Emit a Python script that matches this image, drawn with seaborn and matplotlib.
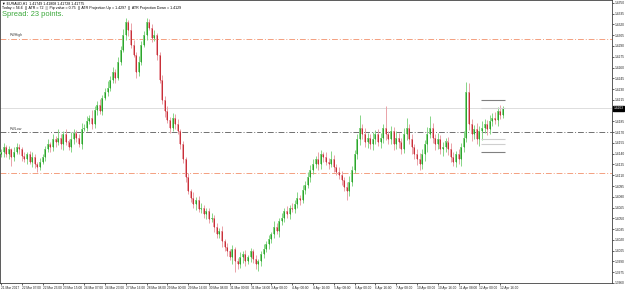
import matplotlib
matplotlib.use("Agg")
import matplotlib.pyplot as plt
import seaborn as sns
import pandas as pd

# ---------------- data ----------------
first_open = 1.4140
closes = [
    1.4143, 1.4149, 1.4139, 1.4146, 1.4135, 1.4142, 1.4150, 1.4146, 1.4137, 1.4132,
    1.4139, 1.4129, 1.4135, 1.4125, 1.4121, 1.4128, 1.4135, 1.4146, 1.4153, 1.4149,
    1.4160, 1.4156, 1.4162, 1.4153, 1.4167, 1.4157, 1.4149, 1.4160, 1.4169, 1.4162,
    1.4153, 1.4174, 1.4176, 1.4185, 1.4190, 1.4181, 1.4201, 1.4208, 1.4199, 1.4218,
    1.4226, 1.4232, 1.4243, 1.4254, 1.4246, 1.4268, 1.4285, 1.4305, 1.4323, 1.4312,
    1.4292, 1.4278, 1.4254, 1.4268, 1.4292, 1.4305, 1.4323, 1.4315, 1.4301, 1.4305,
    1.4278, 1.4243, 1.4215, 1.4199, 1.4187, 1.4176, 1.4190, 1.4181, 1.4171, 1.4153,
    1.4132, 1.4107, 1.4088, 1.4079, 1.4070, 1.4076, 1.4063, 1.4065, 1.4056, 1.4060,
    1.4049, 1.4051, 1.4038, 1.4028, 1.4032, 1.4018, 1.4010, 1.4004, 1.3996, 1.4007,
    1.3990, 1.3986, 1.3996, 1.4000, 1.3990, 1.3996, 1.4004, 1.3993, 1.3986, 1.3990,
    1.4000, 1.4007, 1.4014, 1.4021, 1.4028, 1.4038, 1.4032, 1.4046, 1.4051, 1.4060,
    1.4056, 1.4065, 1.4063, 1.4070, 1.4079, 1.4076, 1.4090, 1.4097, 1.4107, 1.4118,
    1.4125, 1.4132, 1.4125, 1.4139, 1.4135, 1.4129, 1.4125, 1.4132, 1.4121, 1.4115,
    1.4111, 1.4104, 1.4093, 1.4088, 1.4101, 1.4118, 1.4139, 1.4160, 1.4176, 1.4167,
    1.4157, 1.4162, 1.4153, 1.4160, 1.4167, 1.4157, 1.4162, 1.4176, 1.4167, 1.4160,
    1.4171, 1.4153, 1.4162, 1.4157, 1.4146, 1.4167, 1.4176, 1.4160, 1.4149, 1.4139,
    1.4132, 1.4125, 1.4139, 1.4153, 1.4167, 1.4176, 1.4162, 1.4153, 1.4160, 1.4146,
    1.4149, 1.4157, 1.4146, 1.4135, 1.4129, 1.4139, 1.4132, 1.4149, 1.4162, 1.4226,
    1.4181, 1.4167, 1.4174, 1.4160, 1.4171, 1.4176, 1.4181, 1.4174, 1.4185, 1.4190,
    1.4187, 1.4199, 1.4194, 1.4203,
]
upper_wick_pips = [
    4, 6, 3, 5, 2, 7, 5, 3, 4, 6,
    3, 5, 8, 4, 3, 6, 4, 5, 7, 3,
    8, 4, 12, 5, 4, 7, 3, 10, 5, 4,
    6, 9, 5, 7, 4, 11, 6, 5, 8, 4,
    6, 9, 5, 7, 4, 6, 5, 8, 6, 3,
    10, 6, 4, 8, 5, 6, 6, 4, 5, 7,
    3, 4, 6, 5, 8, 4, 6, 5, 7, 3,
    5, 4, 6, 3, 7, 4, 5, 6, 3, 5,
    4, 6, 3, 5, 4, 7, 3, 5, 4, 6,
    3, 5, 7, 4, 6, 3, 5, 4, 6, 3,
    5, 7, 4, 6, 3, 8, 5, 4, 6, 5,
    7, 4, 6, 5, 8, 4, 6, 5, 7, 6,
    8, 5, 10, 6, 4, 7, 5, 12, 6, 4,
    6, 5, 4, 7, 8, 5, 6, 8, 18, 6,
    9, 7, 5, 10, 6, 8, 7, 6, 30, 5,
    8, 6, 10, 7, 5, 9, 14, 6, 8, 5,
    7, 9, 8, 6, 10, 16, 7, 5, 9, 6,
    8, 5, 6, 9, 7, 5, 8, 6, 10, 14,
    12, 8, 6, 9, 7, 10, 8, 6, 9, 7,
    8, 6, 9, 4,
]
lower_wick_pips = [
    5, 8, 4, 6, 12, 5, 3, 6, 7, 4,
    6, 4, 7, 5, 6, 4, 3, 5, 4, 6,
    5, 7, 4, 6, 8, 5, 4, 7, 6, 5,
    4, 6, 3, 5, 4, 6, 5, 7, 4, 5,
    3, 6, 4, 5, 7, 4, 5, 3, 6, 8,
    5, 4, 9, 6, 5, 4, 6, 3, 5, 4,
    7, 5, 6, 8, 4, 7, 5, 6, 4, 6,
    5, 7, 4, 6, 5, 8, 4, 6, 5, 7,
    6, 4, 7, 5, 6, 8, 5, 7, 4, 9,
    14, 6, 5, 8, 6, 4, 7, 5, 6, 9,
    6, 5, 4, 7, 5, 6, 4, 8, 5, 6,
    5, 7, 4, 6, 5, 8, 4, 6, 5, 7,
    6, 5, 8, 6, 7, 5, 6, 4, 7, 5,
    6, 8, 5, 12, 7, 6, 5, 6, 8, 6,
    7, 9, 6, 8, 7, 6, 9, 7, 8, 6,
    7, 8, 6, 9, 7, 5, 8, 7, 9, 6,
    8, 7, 6, 9, 10, 5, 7, 8, 6, 7,
    9, 6, 8, 7, 6, 8, 7, 9, 6, 5,
    8, 10, 7, 6, 9, 12, 7, 8, 6, 7,
    6, 8, 5, 4,
]

x_tick_labels = [
    "21 Mar 2017", "22 Mar 07:00", "22 Mar 23:00", "23 Mar 15:00", "24 Mar 07:00",
    "24 Mar 23:00", "27 Mar 16:00", "28 Mar 08:00", "29 Mar 00:00", "29 Mar 16:00",
    "30 Mar 08:00", "31 Mar 00:00", "31 Mar 16:00", "3 Apr 08:00", "4 Apr 00:00",
    "4 Apr 16:00", "5 Apr 08:00", "6 Apr 00:00", "6 Apr 16:00", "7 Apr 08:00",
    "10 Apr 00:00", "10 Apr 16:00", "11 Apr 08:00", "12 Apr 00:00", "12 Apr 16:00",
]
y_ticks = [
    1.3960, 1.3975, 1.3990, 1.4005, 1.4020, 1.4035, 1.4050, 1.4065, 1.4080,
    1.4095, 1.4110, 1.4125, 1.4140, 1.4155, 1.4170, 1.4185, 1.4200, 1.4215,
    1.4230, 1.4245, 1.4260, 1.4275, 1.4290, 1.4305, 1.4320, 1.4335, 1.4350,
]

level_prices = [1.4300, 1.4170, 1.4113]
level_names = ["PWHigh", "PWLow", ""]
level_colors = ["#f4a080", "#707070", "#f4a080"]

proj_prices = [1.4215, 1.4204, 1.4161, 1.4154, 1.4143]
proj_colors = ["#808080", "#cfcfcf", "#cfcfcf", "#cfcfcf", "#808080"]

header_line1 = "\u25BC EURAUD,H1  1.41749 1.41808 1.41728 1.41775"
header_line2 = ("Today = 56.6  ||  ATR = 72  ||  Pip value = 0.75  ||  "
                "ATR Projection Up = 1.4297  ||  ATR Projection Down = 1.4129")
spread_text = "Spread: 23 points."

# ---------------- build frame ----------------
opens = [first_open] + closes[:-1]
df = pd.DataFrame({"open": opens, "close": closes,
                   "up": upper_wick_pips, "dn": lower_wick_pips})
df["idx"] = range(len(df))
df["high"] = df[["open", "close"]].max(axis=1) + df["up"] * 0.0001
df["low"] = df[["open", "close"]].min(axis=1) - df["dn"] * 0.0001
df["bull"] = df["close"] >= df["open"]

sns.set_theme(style="white")
plt.rcParams["font.family"] = ["Liberation Sans", "DejaVu Sans"]

fig = plt.figure(figsize=(6.25, 2.92), dpi=100)
ax = fig.add_axes([0.0, 9 / 292, 612 / 625, 283 / 292])
ax.set_facecolor("white")

bull_light, bull_dark = "#86d586", "#1c9a1c"
bear_light, bear_dark = "#eaa2a8", "#c21a24"

for _, r in df.iterrows():
    light = bull_light if r["bull"] else bear_light
    dark = bull_dark if r["bull"] else bear_dark
    ax.vlines(r["idx"], r["low"], r["high"], color=light, lw=0.7, zorder=2)
    lo, hi = min(r["open"], r["close"]), max(r["open"], r["close"])
    ax.bar(r["idx"], max(hi - lo, 0.00003), bottom=lo, width=0.75,
           color=light, edgecolor="none", zorder=3)
    ax.vlines(r["idx"], lo, hi, color=dark, lw=0.6, zorder=4)

# horizontal levels via seaborn
xmin, xmax = -0.4, 235
for p, name, c in zip(level_prices, level_names, level_colors):
    lvl = pd.DataFrame({"x": [xmin, xmax], "y": [p, p]})
    sns.lineplot(data=lvl, x="x", y="y", ax=ax, color=c, lw=0.7,
                 linestyle=(0, (6, 2, 1, 2)), zorder=1)
    if name:
        ax.text(3.5, p + 0.0002, name, fontsize=2.6, color="#404040",
                ha="left", va="bottom")

# current price line
last = closes[-1]
ax.axhline(last, color="#d8d8d8", lw=0.6, zorder=0)

# ATR projection marks
for p, c in zip(proj_prices, proj_colors):
    ax.hlines(p, 184.6, 193.8, color=c, lw=0.8, zorder=5)

ax.set_xlim(xmin, xmax)
ax.set_ylim(1.3961, 1.4354)
ax.set_xlabel("")
ax.set_ylabel("")

ax.set_xticks([8 * i for i in range(len(x_tick_labels))])
ax.set_xticklabels(x_tick_labels, ha="left")
ax.set_yticks(y_ticks)
ax.set_yticklabels([f"{v:.4f}" for v in y_ticks])
ax.yaxis.tick_right()
ax.tick_params(axis="both", labelsize=2.3, length=1.5, width=0.5, pad=0.4,
               colors="#202020", direction="out")
ax.tick_params(axis="x", bottom=True)
ax.tick_params(axis="y", right=True)
for s in ax.spines.values():
    s.set_color("#404040")
    s.set_linewidth(0.6)

# current price tag
ax.text(1.003, last, f"{last:.4f}", transform=ax.get_yaxis_transform(),
        fontsize=2.3, color="white", ha="left", va="center",
        bbox=dict(boxstyle="square,pad=0.2", fc="black", ec="black"))

fig.text(2 / 625, 1 - 3.5 / 292, header_line1, fontsize=2.6, color="black",
         ha="left", va="center")
fig.text(2 / 625, 1 - 7.5 / 292, header_line2, fontsize=2.6, color="black",
         ha="left", va="center")
fig.text(2 / 625, 1 - 14 / 292, spread_text, fontsize=5.4, color="#3aa83a",
         ha="left", va="center")

fig.savefig("out.png", dpi=100, facecolor="white")
